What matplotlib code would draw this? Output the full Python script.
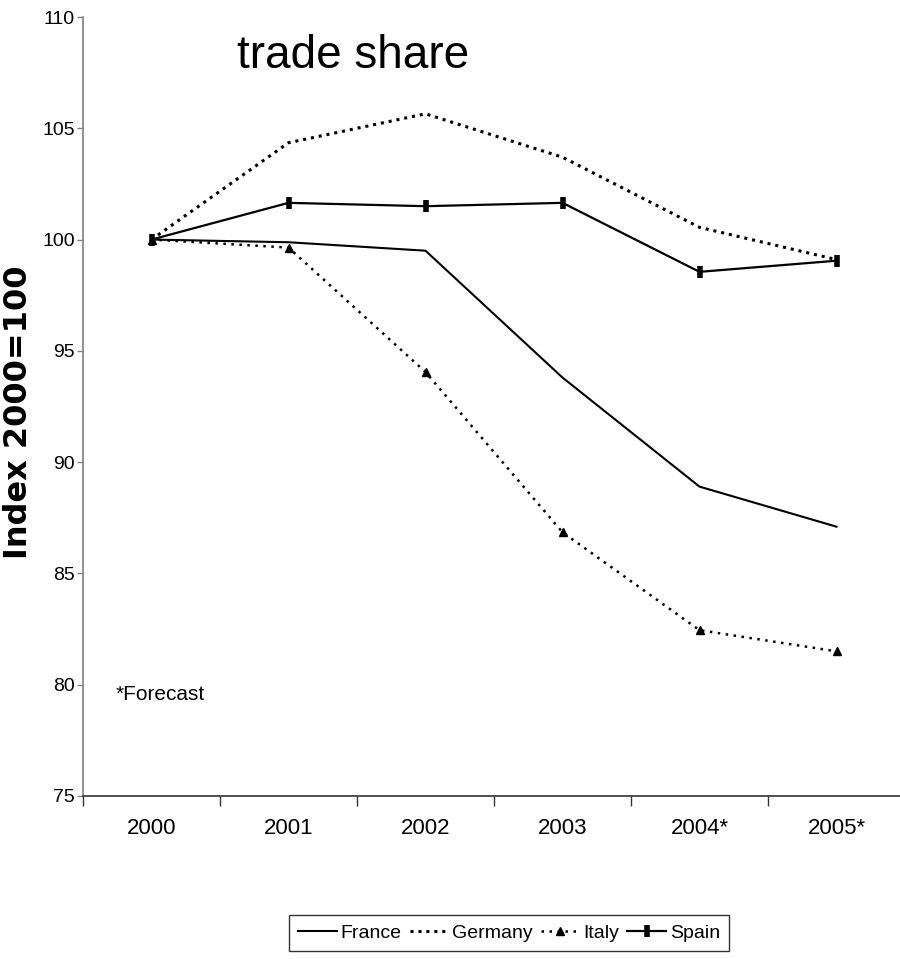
"""Trade share index by country, 2000 = 100."""

import matplotlib

matplotlib.use("Agg")
import matplotlib.pyplot as plt
import numpy as np

years = ["2000", "2001", "2002", "2003", "2004*", "2005*"]
france = [100.0, 99.88, 99.5, 93.8, 88.9, 87.1]
germany = [100.0, 104.35, 105.65, 103.7, 100.55, 99.1]
italy = [100.0, 99.64, 94.05, 86.85, 82.45, 81.5]
spain = [100.0, 101.65, 101.5, 101.65, 98.55, 99.05]

plt.rcParams["font.family"] = ["Liberation Sans", "DejaVu Sans"]

fig = plt.figure(figsize=(9, 9.59), dpi=100)
# category axis runs a little past the right edge of the figure
ax = fig.add_axes([83 / 900, 163 / 959, 822 / 900, 779 / 959])

x = np.arange(len(years))
ax.plot(x, france, color="black", lw=1.5, label="France")
ax.plot(x, germany, color="black", lw=2.2, ls=(0, (1, 1.6)), label="Germany")
ax.plot(x, italy, color="black", lw=1.8, ls=(0, (1, 2.2)), marker="^",
        ms=6, label="Italy")
ax.plot(x, spain, color="black", lw=1.6, marker="|", ms=8, mew=4,
        label="Spain")

ax.set_xlim(-0.5, len(years) - 0.5)
ax.set_ylim(75, 110)
ax.set_yticks(np.arange(75, 111, 5))
ax.set_xticks(np.arange(-0.5, len(years), 1.0))
ax.set_xticklabels([])
ax.set_xticks(x, minor=True)
ax.set_xticklabels(years, minor=True, fontsize=16)
ax.tick_params(axis="x", which="major", direction="out", length=7,
               width=1, color="#333333")
ax.tick_params(axis="x", which="minor", length=0, pad=16)
ax.tick_params(axis="y", direction="out", length=4, width=1,
               color="#808080", labelsize=14, pad=2)

for side in ("top", "right"):
    ax.spines[side].set_visible(False)
ax.spines["left"].set_color("#808080")
ax.spines["left"].set_linewidth(1.2)
ax.spines["bottom"].set_color("#333333")
ax.spines["bottom"].set_linewidth(1.2)

fig.text(19 / 900, 1 - 412 / 959, "Index 2000=100", rotation=90,
         ha="center", va="center", fontsize=23, fontweight="bold",
         family=["DejaVu Sans"])
fig.text(353 / 900, 1 - 56 / 959, "trade share", ha="center", va="center",
         fontsize=33)
ax.text((116 - 83) / 822, (796 - 695) / 779, "*Forecast",
        transform=ax.transAxes, ha="left", va="center", fontsize=15)

leg = fig.legend(loc="center", bbox_to_anchor=(509 / 900, 1 - 933 / 959),
                 ncol=4, fontsize=14, frameon=True, fancybox=False,
                 edgecolor="black", handlelength=2.0, handletextpad=0.2,
                 columnspacing=0.4, borderpad=0.45, borderaxespad=0)
leg.get_frame().set_linewidth(1.0)

fig.savefig("out.png", dpi=100)
plt.close(fig)
